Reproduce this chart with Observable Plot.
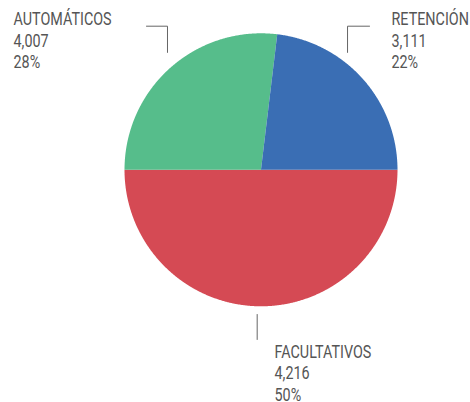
<!DOCTYPE html>
<html><head><meta charset="utf-8">
<script src="https://cdn.jsdelivr.net/npm/d3@7"></script>
<script src="https://cdn.jsdelivr.net/npm/@observablehq/plot@0.6"></script>
<style>body{margin:0;background:#fff}</style>
</head><body><div id="chart"></div>
<script>
// Data (order: drawn clockwise from 3 o'clock)
const categories = ["FACULTATIVOS", "AUTOMÁTICOS", "RETENCIÓN"];
const counts = [4216, 4007, 3111];
const pctLabels = ["50%", "28%", "22%"];
const shares = [50, 26.9, 23.1]; // slice sizes
const colors = ["#d54a54", "#56bd8b", "#3a6eb4"];

// Annotation layout (data units of the pie, radius = 1)
const leaderLayout = {
  "AUTOMÁTICOS": [[-0.839, 1.052], [-0.685, 1.052], [-0.685, 0.86]],
  "RETENCIÓN": [[0.795, 1.052], [0.634, 1.052], [0.634, 0.86]],
  "FACULTATIVOS": [[-0.028, -1.06], [-0.028, -1.243]]
};
const textLayout = {
  "AUTOMÁTICOS": [-1.813, 1.176],
  "RETENCIÓN": [0.956, 1.176],
  "FACULTATIVOS": [0.099, -1.262]
};

const arcs = d3.pie().sort(null).startAngle(Math.PI / 2).endAngle(Math.PI / 2 + 2 * Math.PI)(shares);
const slicePts = [];
arcs.forEach((s, i) => {
  slicePts.push({cat: categories[i], x: 0, y: 0});
  const n = Math.max(2, Math.ceil((s.endAngle - s.startAngle) / 0.005));
  for (let k = 0; k <= n; k++) {
    const a = s.startAngle + (s.endAngle - s.startAngle) * k / n;
    slicePts.push({cat: categories[i], x: Math.sin(a), y: Math.cos(a)});
  }
});

const leaders = categories.flatMap(c => leaderLayout[c].map(([x, y]) => ({cat: c, x, y})));
const labels = categories.map((c, i) => ({
  x: textLayout[c][0], y: textLayout[c][1],
  text: `${c}\n${d3.format(",")(counts[i])}\n${pctLabels[i]}`
}));

const chart = Plot.plot({
  width: 470, height: 402,
  marginLeft: 124, marginRight: 73, marginTop: 32.8, marginBottom: 96.2,
  x: {domain: [-1, 1], axis: null},
  y: {domain: [-1, 1], axis: null},
  color: {domain: categories, range: colors},
  style: {fontFamily: "Roboto, sans-serif", background: "#fff", overflow: "visible"},
  marks: [
    Plot.line(slicePts, {x: "x", y: "y", z: "cat", fill: "cat", stroke: "none"}),
    Plot.line(leaders, {x: "x", y: "y", z: "cat", stroke: "#666", strokeWidth: 1}),
    Plot.text(labels, {x: "x", y: "y", text: "text", textAnchor: "start", lineAnchor: "top",
      lineHeight: 1.245, fontSize: 17.5, fill: "#555"})
  ]
});
// condense the label glyphs horizontally (narrow typeface look)
chart.querySelectorAll("text").forEach(t => {
  const tr = t.getAttribute("transform");
  if (tr) t.setAttribute("transform", tr + " scale(0.82,1)");
});
document.getElementById("chart").appendChild(chart);
</script>
</body></html>
